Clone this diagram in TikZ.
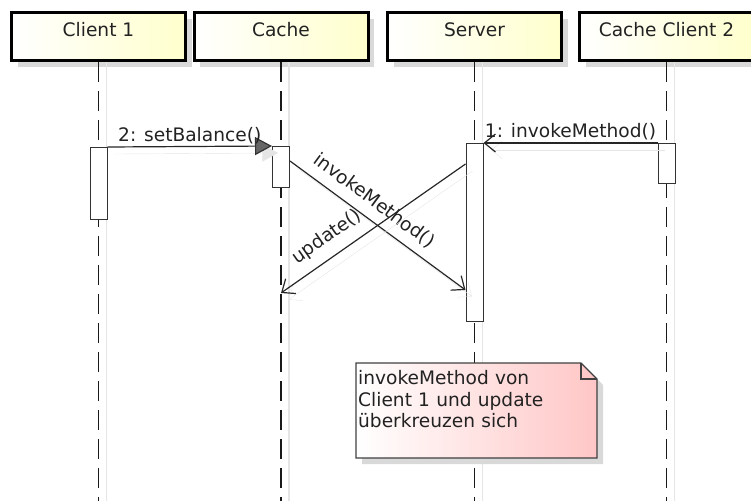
\documentclass[tikz,border=0pt]{standalone}
\usepackage{fontspec}
\setmainfont{DejaVu Sans}
\usetikzlibrary{arrows.meta,shadows}
\definecolor{kopfgelb}{RGB}{255,255,205}
\definecolor{notizrosa}{RGB}{255,198,198}
\definecolor{textgrau}{RGB}{34,34,34}

\begin{document}
\begin{tikzpicture}[x=1pt, y=-1pt,
      every node/.style={font=\fontsize{18.6}{21.7}\selectfont, text=textgrau},
      kopf/.style = {shape=rectangle, draw, line width=3pt,
        left color=white, right color=kopfgelb,
        minimum width=174pt, minimum height=48pt,
        text height=13pt, text depth=13pt,
        drop shadow={shadow xshift=6pt, shadow yshift=-6pt, fill=black!15, opacity=1}
      },
      lebenslinie/.style = {draw=black!90, line width=1.2pt, dash pattern=on 20pt off 9pt,
        preaction={draw=black!10, solid, line width=1.5pt, transform canvas={shift={(8pt,0pt)}}}
      },
      aktiv/.style = {shape=rectangle, draw=black!80, line width=1pt, fill=white,
        minimum width=17pt, anchor=north, inner sep=0pt
      },
      nachricht/.style = {draw=black!85, line width=1.2pt,
        -{Straight Barb[length=11pt,width=18pt]},
        preaction={draw=black!10, -{Straight Barb[length=11pt,width=18pt]},
          transform canvas={shift={(7pt,-7pt)}}}
      },
      synchron/.style = {draw=black!85, line width=1.2pt,
        -{Triangle[length=17pt,width=18pt,color=black!80,fill=black!60]},
        preaction={draw=black!10, -{Triangle[length=17pt,width=18pt]},
          transform canvas={shift={(7pt,-7pt)}}}
      },
      notizrahmen/.style = {draw=black!75, line width=1.3pt,
        left color=white, right color=notizrosa
      },
      beschriftung/.style={above, inner sep=2pt}
    ]
    \useasboundingbox (0,0) rectangle (751,501);

    % Köpfe
    \node[kopf] (client1) at (98.5,36.5) {Client 1};
    \node[kopf] (cache) at (281,36.5) {Cache};
    \node[kopf] (server) at (474.5,36.5) {Server};
    \node[kopf] (client2) at (666.5,36.5) {Cache Client 2};

    % Lebenslinien
    \coordinate (unten) at (0,501);
    \foreach \n in {client1,cache,server,client2}
      \draw[lebenslinie] (\n.south) -- (\n.south |- unten);

    % Aktivierungen
    \node[aktiv, minimum height=72pt] (akt1) at (client1.south |- 0,147) {};
    \node[aktiv, minimum height=41pt] (aktC) at (cache.south |- 0,146) {};
    \node[aktiv, minimum height=178pt] (aktS) at (server.south |- 0,143) {};
    \node[aktiv, minimum height=40pt] (akt2) at (client2.south |- 0,143) {};

    % Nachrichten
    \draw[nachricht] (akt2.north west) -- (aktS.north east)
      node[midway, beschriftung] {1: invokeMethod()};
    \draw[synchron] (akt1.north east) -- (aktC.north west)
      node[midway, beschriftung] {2: setBalance()};
    \draw[nachricht] ([yshift=-15pt]aktC.north east) -- ([yshift=-147pt]aktS.north west)
      node[pos=0.42, sloped, above=7pt, inner sep=2pt] {invokeMethod()};
    \coordinate (updateende) at (cache.south |- 0,293);
    \draw[nachricht] ([yshift=-21pt]aktS.north west) -- (updateende)
      node[pos=0.69, sloped, above=8pt, inner sep=2pt] {update()};

    % Notiz
    \coordinate (notiz) at (356,363);
    \fill[black!15] ([shift={(6pt,-6pt)}]notiz) -- ++(225,0) -- ++(16,16) -- ++(0,79)
      -- ++(-241,0) -- cycle;
    \draw[notizrahmen] (notiz) -- ++(225,0) -- ++(16,16) -- ++(0,79) -- ++(-241,0) -- cycle;
    \draw[draw=black!75, line width=1.3pt] (notiz) ++(225,0) -- ++(0,16) -- ++(16,0);
    \node[anchor=north west, text width=236pt, align=left, inner xsep=2pt, inner ysep=7pt]
      (notiztext) at (notiz) {invokeMethod von\\Client 1 und update\\überkreuzen sich};
\end{tikzpicture}
\end{document}
